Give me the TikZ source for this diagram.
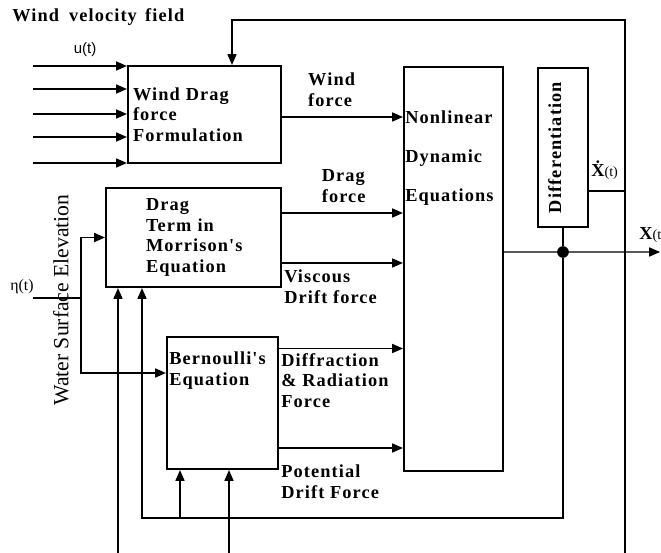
\documentclass[tikz,border=0pt]{standalone}
\usepackage{fontspec}
\setmainfont{Liberation Serif}
\setsansfont{Liberation Sans}
\newfontfamily\trackedfont[LetterSpace=6]{Liberation Serif}
\usetikzlibrary{arrows.meta,positioning}
\newcommand{\blocktext}{\fontsize{11}{12.3}\selectfont\trackedfont\bfseries}

\begin{document}
\begin{tikzpicture}[
  x=0.6pt, y=-0.6pt,
  box/.style={draw, rectangle, line width=1.3pt, inner sep=0pt, align=left, font=\blocktext},
  boxtext/.style={inner sep=0pt, align=left, font=\blocktext},
  forcelbl/.style={inner sep=1pt, align=left, font=\blocktext},
  signal/.style={line width=0.7pt},
  arr/.style={signal, -{Triangle[length=6.5pt,width=5.5pt]}},
  dot/.style={circle, fill, inner sep=0pt, minimum size=7pt},
  sig/.style={inner sep=1pt, font=\fontsize{9.5}{11}\selectfont}
]
\useasboundingbox (0,0) rectangle (661,553);

% blocks
\node[box, minimum width=91.8pt, minimum height=58.2pt, text width=85.8pt] (wdrag) at (204.5,114.5) {Wind Drag\\force\\Formulation};
\node[box, minimum width=105pt, minimum height=59.4pt, text width=57pt] (morr) at (193.5,237.5) {Drag\\Term in\\Morrison's\\Equation};
\node[box, minimum width=66.6pt, minimum height=79.2pt] (bern) at (222.5,403) {};
\node[boxtext, anchor=north west] (berntext) at ([shift={(3,16)}]bern.north west) {Bernoulli's\\Equation};
\node[box, minimum width=59.4pt, minimum height=242.4pt] (nonlin) at (453.5,269) {};
\node[boxtext, anchor=north west, font=\fontsize{11}{23.4}\selectfont\trackedfont\bfseries] (nltext) at ([shift={(2,45)}]nonlin.north west) {Nonlinear\\Dynamic\\Equations};
\node[box, minimum width=30pt, minimum height=95.4pt] (diff) at (563,147.5) {};
\node[boxtext, rotate=90] (difftext) at ([xshift=-5pt]diff.center) {Differentiation};

% inputs
\node[boxtext, anchor=base west] (wvf) at (12,22) {Wind\hspace{6pt}velocity\hspace{5pt}field};
\node[sig, font=\sffamily\fontsize{9}{10}\selectfont] (ut) at (85,50) {u(t)};
\foreach \y [count=\i] in {66,89,114,137,163} {
  \coordinate (w\i) at (33,\y);
  \draw[arr] (w\i) -- (w\i -| wdrag.west);
}
\node[sig] (eta) at (22,287) {η(t)};
\node[rotate=90, inner sep=0pt, font=\fontsize{13}{14}\selectfont] (wse) at (61,300) {Water Surface Elevation};
\coordinate (etain) at (33,298);
\coordinate (etasplit) at (81,298);
\draw[signal] (etain) -- (etasplit);
\draw[arr] (etasplit) |- (morr.west);
\draw[arr] (etasplit) |- ([yshift=18pt]bern.west);

% forces
\draw[arr] ([yshift=-1.5pt]wdrag.east) -- ([yshift=-1.5pt]wdrag.east -| nonlin.west)
  node[forcelbl, pos=0.41, above=5pt] {Wind\\force};
\draw[arr] ([yshift=14.7pt]morr.east) -- ([yshift=14.7pt]morr.east -| nonlin.west)
  node[forcelbl, pos=0.51, above=5pt] {Drag\\force};
\draw[arr] ([yshift=-15.3pt]morr.east) -- ([yshift=-15.3pt]morr.east -| nonlin.west)
  node[forcelbl, pos=0, below right=3pt and 0pt] {Viscous\\Drift force};
\draw[arr] ([yshift=32.7pt]bern.east) -- ([yshift=32.7pt]bern.east -| nonlin.west)
  node[forcelbl, pos=0, below right=1.5pt and 0pt] {Diffraction\\\& Radiation\\Force};
\draw[arr] ([yshift=-27pt]bern.east) -- ([yshift=-27pt]bern.east -| nonlin.west)
  node[forcelbl, pos=0, below right=9pt and 0pt] {Potential\\Drift Force};

% response and feedback
\coordinate (xout) at ([yshift=10.2pt]nonlin.east);
\coordinate (xend) at (660,252);
\node[dot] (jn) at (diff.south |- xout) {};
\draw[arr] (xout) -- (xend);
\node[inner sep=0pt, anchor=base west] (xlbl) at (639,240) {{\fontsize{11}{12}\selectfont\bfseries X}{\fontsize{8.5}{10}\selectfont(t}};
\draw[signal] (jn) -- (diff.south);

\coordinate (ftop) at (625,20);
\coordinate (b3) at (625,553);
\draw[arr] (b3) -- (ftop) -| ([xshift=16.5pt]wdrag.north);
\draw[signal] ([yshift=-26.1pt]diff.east) -- ([yshift=-26.1pt]diff.east -| ftop);
\node[inner sep=0pt, anchor=base west] (xdot) at (591,177) {{\fontsize{11}{12}\selectfont\bfseries\.X}{\fontsize{8.5}{10}\selectfont(t)}};

\coordinate (lpl) at (142,518);
\coordinate (lpb) at (180,518);
\draw[arr] (jn) |- (lpl) -- (lpl |- morr.south);
\draw[arr] (lpb) -- (lpb |- bern.south);

\coordinate (b1) at (118,553);
\coordinate (b2) at (229,553);
\draw[arr] (b1) -- (b1 |- morr.south);
\draw[arr] (b2) -- (b2 |- bern.south);
\end{tikzpicture}
\end{document}
